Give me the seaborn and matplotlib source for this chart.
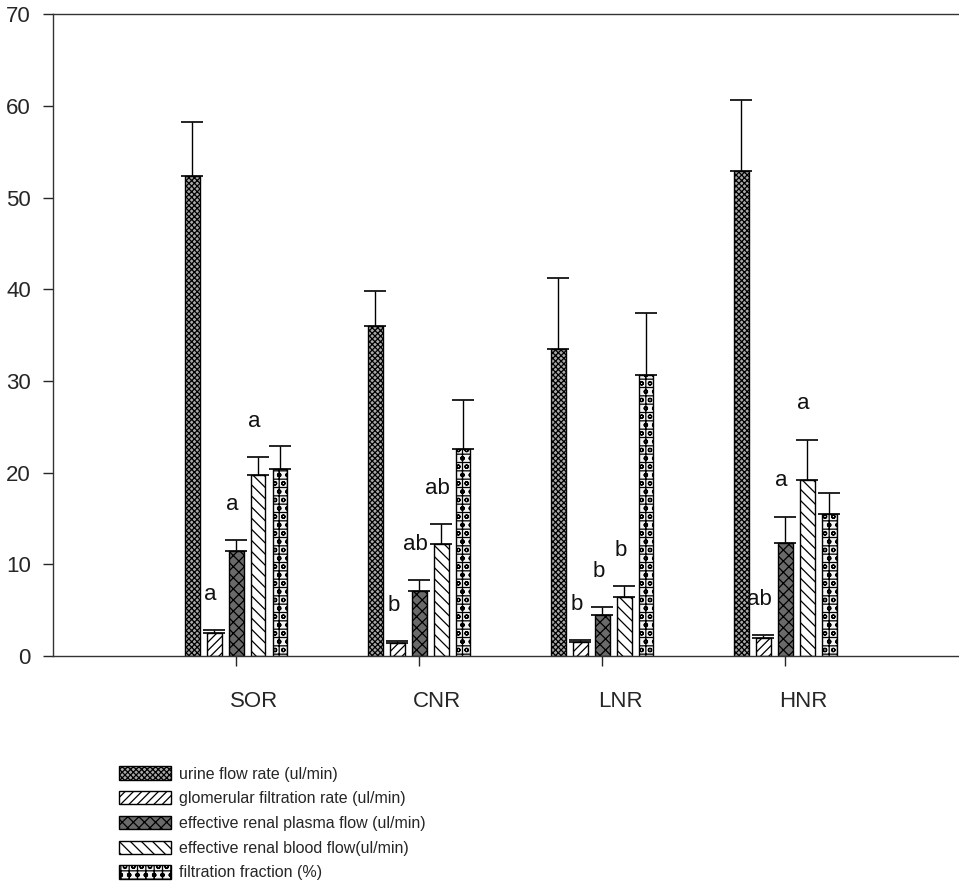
import matplotlib
matplotlib.use("Agg")
import matplotlib.pyplot as plt
from matplotlib.container import BarContainer
import seaborn as sns
import pandas as pd
import numpy as np

# Renal function measurements per treatment group (mean and SEM)
groups = ["SOR", "CNR", "LNR", "HNR"]
measures = [
    "urine flow rate (ul/min)",
    "glomerular filtration rate (ul/min)",
    "effective renal plasma flow (ul/min)",
    "effective renal blood flow(ul/min)",
    "filtration fraction (%)",
]
urine_flow = [52.4, 36.0, 33.5, 52.9]
gfr = [2.5, 1.4, 1.5, 2.0]
erpf = [11.4, 7.1, 4.5, 12.3]
erbf = [19.7, 12.2, 6.4, 19.2]
filtration_fraction = [20.4, 22.6, 30.6, 15.5]

urine_flow_sem = [5.8, 3.8, 7.7, 7.7]
gfr_sem = [0.3, 0.2, 0.2, 0.3]
erpf_sem = [1.2, 1.2, 0.8, 2.9]
erbf_sem = [2.0, 2.2, 1.2, 4.4]
filtration_fraction_sem = [2.5, 5.3, 6.8, 2.3]

# Significance letters
letters_gfr = ["a", "b", "b", "ab"]
letters_erpf = ["a", "ab", "b", "a"]
letters_erbf = ["a", "ab", "b", "a"]

means = [urine_flow, gfr, erpf, erbf, filtration_fraction]
sems = [urine_flow_sem, gfr_sem, erpf_sem, erbf_sem, filtration_fraction_sem]
letters = [None, letters_gfr, letters_erpf, letters_erbf, None]

rows = []
for m, vals, errs in zip(measures, means, sems):
    for g, v, e in zip(groups, vals, errs):
        rows.append({"group": g, "measure": m, "value": v, "sem": e})
df = pd.DataFrame(rows)

sns.set_style("ticks")
plt.rcParams["font.family"] = ["Liberation Sans", "DejaVu Sans"]
plt.rcParams["hatch.linewidth"] = 0.9

fig = plt.figure(figsize=(9.59, 8.9), dpi=100)
ax = fig.add_axes([0.0553, 0.263, 0.9447, 0.721])

sns.barplot(
    data=df, x="group", y="value", hue="measure",
    order=groups, hue_order=measures,
    palette=["white"] * 5, width=0.6, gap=0.32,
    errorbar=None, legend=False, ax=ax,
    edgecolor="black", linewidth=1.0,
)

styles = [
    {"hatch": "xxxxxx", "face": "#a8a8a8"},
    {"hatch": "////", "face": "white"},
    {"hatch": "xxx", "face": "#6a6a6a"},
    {"hatch": "\\\\\\", "face": "white"},
    {"hatch": "++oo", "face": "#f4f4f4"},
]

bar_containers = [c for c in ax.containers if isinstance(c, BarContainer)]

for cont, st, errs, lets in zip(bar_containers, styles, sems, letters):
    for i, bar in enumerate(cont.patches):
        bar.set_hatch(st["hatch"])
        bar.set_facecolor(st["face"])
        bar.set_edgecolor("black")
        x = bar.get_x() + bar.get_width() / 2
        h = bar.get_height()
        ax.errorbar(x, h, yerr=[[0], [errs[i]]], fmt="none", ecolor="black",
                    elinewidth=1.0, capsize=8, capthick=1.2, zorder=3)
        if lets is not None and lets[i]:
            ax.text(x - 0.02, h + errs[i] + 3.9, lets[i], ha="center",
                    va="center", fontsize=16, color="#111111")

ax.set_xlim(-1.0, 3.95)
ax.set_ylim(0, 70)
ax.set_yticks(np.arange(0, 71, 10))
ax.set_xlabel("")
ax.set_ylabel("")

# tick marks at group centres, labels slightly to the right
ax.set_xticks(range(len(groups)))
ax.set_xticklabels([])
ax.set_xticks(np.arange(len(groups)) + 0.1, minor=True)
ax.set_xticklabels(groups, minor=True, fontsize=16)
ax.tick_params(axis="x", which="major", direction="out", length=7, width=1.0)
ax.tick_params(axis="x", which="minor", length=0, pad=25)
ax.tick_params(axis="y", direction="out", length=7, width=1.0, labelsize=16, pad=9)

for s in ["left", "bottom", "top"]:
    ax.spines[s].set_visible(True)
    ax.spines[s].set_linewidth(1.0)
    ax.spines[s].set_color("#333333")
ax.spines["right"].set_visible(False)

handles = [cont.patches[0] for cont in bar_containers]
fig.legend(handles, measures, loc="upper left", bbox_to_anchor=(0.117, 0.146),
           frameon=False, fontsize=11.5, handlelength=3.3, handleheight=0.9,
           labelspacing=0.6, handletextpad=0.5, borderaxespad=0)

fig.savefig("out.png", dpi=100, facecolor="white")
